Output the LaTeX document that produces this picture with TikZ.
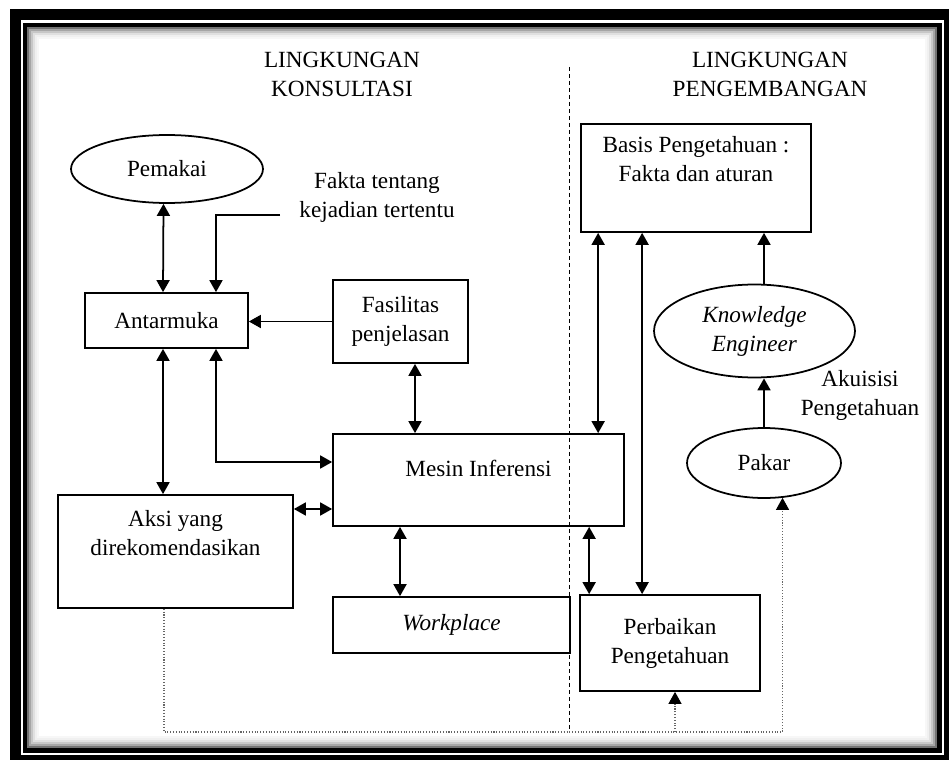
\documentclass[tikz,border=0pt]{standalone}
\usepackage{fontspec}
\setmainfont{Liberation Serif}
\usetikzlibrary{shapes.geometric}
\usetikzlibrary{positioning}
\usetikzlibrary{arrows.meta}
\tikzstyle{kotak}=[draw,rectangle,align=center,inner sep=0pt,line width=1pt]
\tikzstyle{elips}=[draw,ellipse,align=center,inner sep=0pt,line width=1pt]
\tikzstyle{teks}=[align=center]

\begin{document}
\begin{tikzpicture}
	[x=0.02cm,y=-0.02cm,font=\fontsize{13.2}{16.5}\selectfont,
	 >={Triangle[length=2.4mm,width=2.6mm]}]
	\tikzstyle{panah}=[<->,line width=1pt];
	\tikzstyle{satu}=[->,line width=1pt];
	\tikzstyle{umpan}=[-{Triangle[length=2.4mm,width=2.6mm,color=black]},densely dotted,black!60,line width=0.6pt];

	% bingkai
	\useasboundingbox (0,0) rectangle (949,760);
	\fill[white] (0,0) rectangle (949,760);
	\fill[black] (10,9) rectangle (949,760);
	\fill[white] (21,20) rectangle (944,755);
	\fill[black] (23,23) rectangle (942,753);
	\fill[white] (27,27) rectangle (937,748);
	\foreach \d/\c in {1/55,3/35,5/22,7/12,9/6,11/3}
		\draw[black!\c,line width=0.04cm] (27+\d,27+\d) rectangle (937-\d,748-\d);
	\draw[dash pattern=on 0.08cm off 0.06cm,line width=0.5pt] (569,67) -- (569,730);

	\node (judul1) [teks] at (342,74) {LINGKUNGAN\\KONSULTASI};
	\node (judul2) [teks] at (770,74) {LINGKUNGAN\\PENGEMBANGAN};
	\node (Pemakai) [elips,minimum width=3.84cm,minimum height=1.36cm] at (167,169) {Pemakai};
	\node (Fakta) [teks] at (377,197) {Fakta tentang\\kejadian tertentu};
	\node (Antarmuka) [kotak,minimum width=3.26cm,minimum height=1.1cm] at (166.5,320.5) {Antarmuka};
	\node (Fasilitas) [kotak,minimum width=2.7cm,minimum height=1.66cm] at (400.5,321.5) {Fasilitas\\penjelasan};
	\node (Mesin) [kotak,minimum width=5.82cm,minimum height=1.84cm,text depth=0.48cm] at (478.5,480) {Mesin Inferensi};
	\node (Aksi) [kotak,minimum width=4.7cm,minimum height=2.26cm] at (175.5,551.5) {Aksi yang\\direkomendasikan\\\strut};
	\node (Workplace) [kotak,minimum width=4.74cm,minimum height=1.12cm] at (451.5,625) {\textit{Workplace}};
	\node (Basis) [kotak,minimum width=4.6cm,minimum height=2.16cm] at (696,178) {Basis Pengetahuan :\\Fakta dan aturan\\\strut};
	\node (Perbaikan) [kotak,minimum width=3.6cm,minimum height=1.92cm] at (670,643) {Perbaikan\\Pengetahuan};
	\node (KE) [elips,minimum width=4.02cm,minimum height=1.86cm] at (754.5,331) {\textit{Knowledge}\\\textit{Engineer}};
	\node (Akuisisi) [teks] at (860,395) {Akuisisi\\Pengetahuan};
	\node (Pakar) [elips,minimum width=3.08cm,minimum height=1.4cm] at (764,463) {Pakar};
	\coordinate (umpan) at (164,732);

	\draw[panah] ([xshift=-0.07cm]Pemakai.south) -- ([xshift=-0.07cm]Antarmuka.north);
	\draw[satu] ([xshift=-0.26cm,yshift=-0.36cm]Fakta.west) -| ([xshift=0.99cm]Antarmuka.north);
	\draw[satu] (Fasilitas.west) -- (Fasilitas.west -| Antarmuka.east);
	\draw[panah] ([xshift=-0.07cm]Antarmuka.south) -- ([xshift=-0.07cm]Antarmuka.south |- Aksi.north);
	\draw[panah] ([xshift=0.99cm]Antarmuka.south) |- ([yshift=0.36cm]Mesin.west);
	\draw[panah] ([xshift=0.29cm]Fasilitas.south) -- ([xshift=0.29cm]Fasilitas.south |- Mesin.north);
	\draw[panah] ([yshift=-0.58cm]Mesin.west -| Aksi.east) -- ([yshift=-0.58cm]Mesin.west);
	\draw[panah] ([xshift=-1.03cm]Workplace.north |- Mesin.south) -- ([xshift=-1.03cm]Workplace.north);
	\draw[panah] ([xshift=0.36cm]Basis.south west) -- ([xshift=0.36cm]Basis.south west |- Mesin.north);
	\draw[panah] ([xshift=1.26cm]Perbaikan.north west |- Basis.south) -- ([xshift=1.26cm]Perbaikan.north west);
	\draw[panah] ([xshift=0.2cm]Perbaikan.north west |- Mesin.south) -- ([xshift=0.2cm]Perbaikan.north west);
	\draw[satu] (Pakar.north |- KE.north) -- (Pakar.north |- Basis.south);
	\draw[satu] (Pakar.north) -- (Pakar.north |- KE.south);

	\draw[umpan] (Aksi.south -| umpan) -- (umpan) -| (Pakar.-62);
	\draw[umpan] ([xshift=0.1cm]Perbaikan.south |- umpan) -- ([xshift=0.1cm]Perbaikan.south);
\end{tikzpicture}
\end{document}
